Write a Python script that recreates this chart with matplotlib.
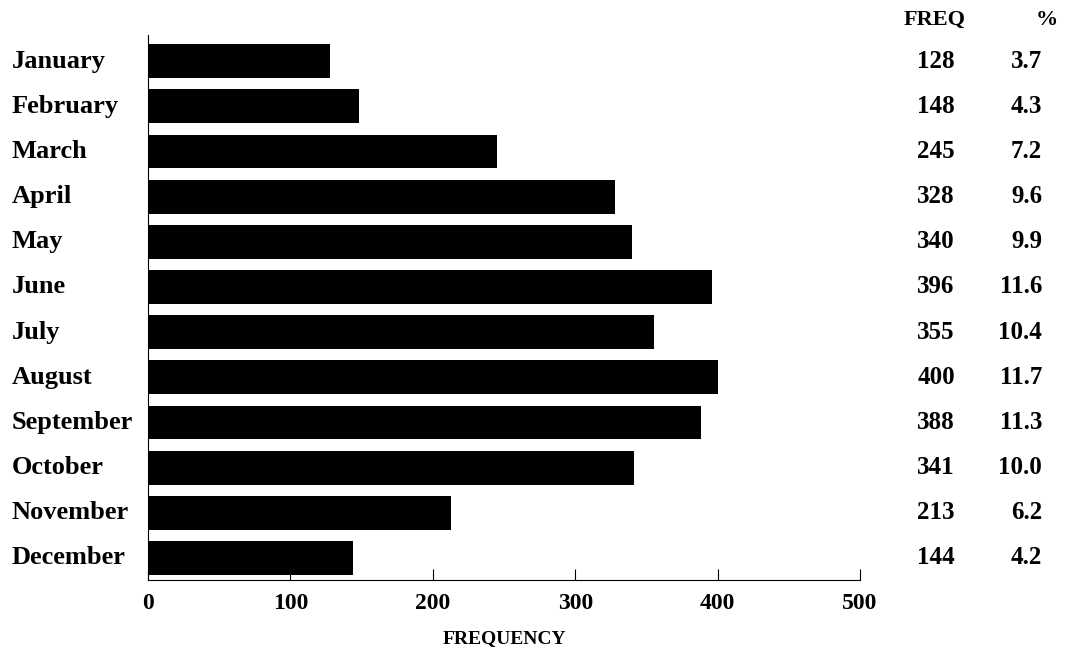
import matplotlib.pyplot as plt

months = ['January', 'February', 'March', 'April', 'May', 'June', 'July',
          'August', 'September', 'October', 'November', 'December']
freq = [128, 148, 245, 328, 340, 396, 355, 400, 388, 341, 213, 144]
pct = ['3.7', '4.3', '7.2', '9.6', '9.9', '11.6', '10.4', '11.7', '11.3', '10.0', '6.2', '4.2']

plt.rcParams['font.family'] = ['Liberation Serif', 'DejaVu Serif']
plt.rcParams['font.weight'] = 'bold'

fig = plt.figure(figsize=(10.73, 6.58), dpi=100)
ax = fig.add_axes([0.1379, 0.1185, 0.6636, 0.8283])

pos = list(range(len(months)))
ax.barh(pos, freq, height=0.75, color='black')
ax.set_ylim(11.49, -0.58)
ax.set_xlim(0, 500)

ax.spines['top'].set_visible(False)
ax.spines['right'].set_visible(False)
ax.set_yticks([])
ax.set_xticks([0, 100, 200, 300, 400, 500])
ax.tick_params(axis='x', direction='in', length=8, labelsize=17, pad=9)
for lab in ax.get_xticklabels():
    lab.set_fontweight('bold')
ax.set_xlabel('FREQUENCY', fontsize=14, fontweight='bold', labelpad=12)

# month names and table columns
ytr = ax.get_yaxis_transform()
for i, m in enumerate(months):
    ax.text((12 - 148) / 712, i, m, transform=ytr, ha='left', va='center',
            fontsize=19, fontweight='bold')
    ax.text((936 - 148) / 712, i, str(freq[i]), transform=ytr, ha='center',
            va='center', fontsize=18, fontweight='bold')
    ax.text((1042 - 148) / 712, i, pct[i], transform=ytr, ha='right',
            va='center', fontsize=18, fontweight='bold')

fig.text(935 / 1073, 1 - 20 / 658, 'FREQ', ha='center', va='center', fontsize=16, fontweight='bold')
fig.text(1047 / 1073, 1 - 20 / 658, '%', ha='center', va='center', fontsize=16, fontweight='bold')

fig.savefig('out.png', dpi=100)
